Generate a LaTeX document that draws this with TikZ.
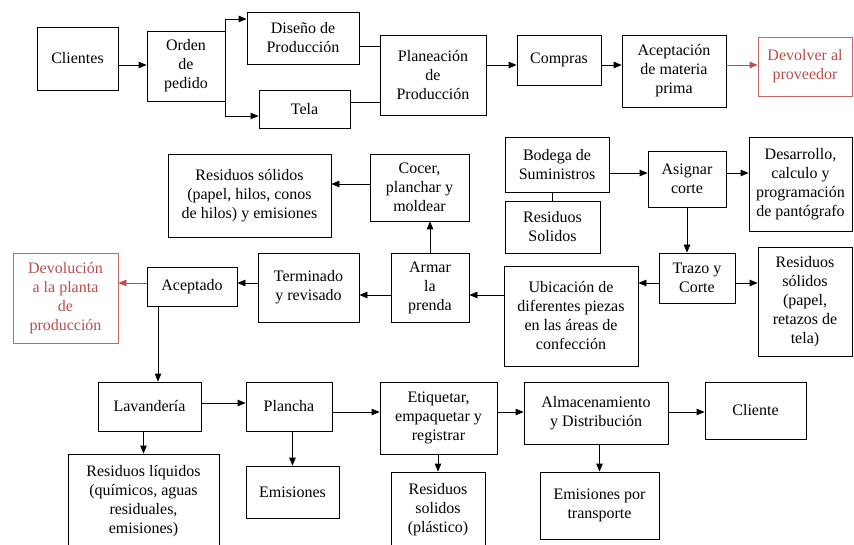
\documentclass[tikz,border=0pt]{standalone}
\usepackage{fontspec}
\setmainfont{Liberation Serif}
\usetikzlibrary{arrows.meta}
\definecolor{rojo}{RGB}{185,78,74}
\tikzset{
	caja/.style={draw, line width=0.8pt, align=center, inner sep=1pt, font=\fontsize{16}{19}\selectfont},
	roja/.style={caja, draw=rojo!85, text=rojo},
	tam/.style 2 args={minimum width=#1pt, minimum height=#2pt},
	flecha/.style={line width=0.8pt, -{Triangle[length=8pt,width=6.5pt]}},
	linea/.style={line width=0.8pt},
}
\begin{document}
\begin{tikzpicture}[x=1pt,y=-1pt]
	\useasboundingbox (0,0) rectangle (854,545);
	% fila de arriba
	\node[caja, tam={81}{63}] (clientes) at (77.5,58.5) {Clientes};
	\node[caja, tam={78}{70}] (orden) at (186,66) {Orden\\de\\pedido};
	\node[caja, tam={112}{52}] (diseno) at (303,38) {Diseño de\\Producción};
	\node[caja, tam={91}{38}] (tela) at (304.5,109) {Tela};
	\node[caja, tam={106}{80}] (planeacion) at (433,75) {Planeación\\de\\Producción};
	\node[caja, tam={84}{50}] (compras) at (559,60) {Compras};
	\node[caja, tam={104}{72}] (aceptacion) at (674,71) {Aceptación\\de materia\\prima};
	\node[roja, tam={94}{59}] (devolver) at (805,66.5) {Devolver al\\proveedor};
	% fila del medio
	\node[caja, tam={163}{83}] (ressolidos) at (249.5,195.5) {Residuos sólidos\\(papel, hilos, conos\\de hilos) y emisiones};
	\node[caja, tam={99}{67}] (cocer) at (419.5,187.5) {Cocer,\\planchar y\\moldear};
	\node[caja, tam={104}{55}] (bodega) at (557,164.5) {Bodega de\\Suministros};
	\node[caja, tam={95}{52}] (resbodega) at (552.5,227) {Residuos\\Solidos};
	\node[caja, tam={78}{56}] (asignar) at (687,179) {Asignar\\corte};
	\node[caja, tam={103}{94}] (desarrollo) at (800.5,184) {Desarrollo,\\calculo y\\programación\\de pantógrafo};
	\node[roja, tam={105}{90}] (devolucion) at (65.5,298) {Devolución\\a la planta\\de\\producción};
	\node[caja, tam={90}{39}] (aceptado) at (192,286.5) {Aceptado};
	\node[caja, tam={101}{69}] (terminado) at (308.5,287.5) {Terminado\\y revisado};
	\node[caja, tam={78}{69}] (armar) at (430,287.5) {Armar\\la\\prenda};
	\node[caja, tam={134}{100}] (ubicacion) at (571,316) {Ubicación de\\diferentes piezas\\en las áreas de\\confección};
	\node[caja, tam={76}{50}] (trazo) at (697,278) {Trazo y\\Corte};
	\node[caja, tam={94}{109}] (restela) at (805,301.5) {Residuos\\sólidos\\(papel,\\retazos de\\tela)};
	% fila de abajo
	\node[caja, tam={103}{49}] (lavanderia) at (149.5,406.5) {Lavandería};
	\node[caja, tam={86}{49}] (plancha) at (289,406.5) {Plancha};
	\node[caja, tam={117}{72}] (etiquetar) at (438.5,418) {Etiquetar,\\empaquetar y\\registrar};
	\node[caja, tam={144}{62}] (almacen) at (596,413) {Almacenamiento\\y Distribución};
	\node[caja, tam={101}{57}] (cliente) at (755.5,410.5) {Cliente};
	\node[caja, tam={151}{94}] (resliquidos) at (143.5,501) {Residuos líquidos\\(químicos, aguas\\residuales,\\emisiones)};
	\node[caja, tam={93}{52}] (emisiones) at (292.5,492) {Emisiones};
	\node[caja, tam={94}{76}] (resplastico) at (438,510) {Residuos\\solidos\\(plástico)};
	\node[caja, tam={119}{67}] (emitrans) at (599.5,505.5) {Emisiones por\\transporte};

	\coordinate (f1) at (0,65);
	\coordinate (f2) at (0,184);
	\coordinate (f3) at (0,173);
	\coordinate (f4) at (0,283);
	\coordinate (f5) at (0,295);
	\coordinate (f6) at (0,412);
	\coordinate (c1) at (158,0);

	\draw[flecha] (clientes.east |- f1) -- (orden.west |- f1);
	\draw[flecha] (orden.north east) |- ([yshift=19pt]diseno.west);
	\draw[flecha] (orden.south east) |- ([yshift=-7pt]tela.west);
	\coordinate (d1) at ([yshift=-8pt]diseno.east);
	\coordinate (t1) at ([yshift=7pt]tela.east);
	\draw[linea] (d1) -- (d1 -| planeacion.west);
	\draw[linea] (t1) -- (t1 -| planeacion.west);
	\foreach \a/\b in {planeacion/compras, compras/aceptacion}
		\draw[flecha] (\a.east |- f1) -- (\b.west |- f1);
	\draw[flecha, rojo] (aceptacion.east |- f1) -- (devolver.west |- f1);

	\draw[flecha] (cocer.west |- f2) -- (ressolidos.east |- f2);
	\draw[flecha] (armar.north) -- (armar.north |- cocer.south);
	\draw[linea] (resbodega.north) -- (resbodega.north |- bodega.south);
	\foreach \a/\b in {bodega/asignar, asignar/desarrollo}
		\draw[flecha] (\a.east |- f3) -- (\b.west |- f3);
	\draw[flecha] (asignar.south) -- (asignar.south |- trazo.north);
	\draw[flecha] (trazo.east |- f4) -- (restela.west |- f4);
	\draw[flecha] (trazo.west |- f4) -- (ubicacion.east |- f4);
	\foreach \a/\b in {ubicacion/armar, armar/terminado}
		\draw[flecha] (\a.west |- f5) -- (\b.east |- f5);
	\draw[flecha] (terminado.west |- f4) -- (aceptado.east |- f4);
	\draw[flecha, rojo] (aceptado.west |- f4) -- (devolucion.east |- f4);
	\draw[flecha] (aceptado.south -| c1) -- (lavanderia.north -| c1);

	\draw[flecha] (lavanderia.east |- 0,403) -- (plancha.west |- 0,403);
	\foreach \a/\b in {plancha/etiquetar, etiquetar/almacen, almacen/cliente}
		\draw[flecha] (\a.east |- f6) -- (\b.west |- f6);
	\draw[flecha] (lavanderia.south -| resliquidos.north) -- (resliquidos.north);
	\foreach \a/\b in {plancha/emisiones, etiquetar/resplastico, almacen/emitrans}
		\draw[flecha] (\a.south -| \b.north) -- (\b.north);
\end{tikzpicture}
\end{document}
